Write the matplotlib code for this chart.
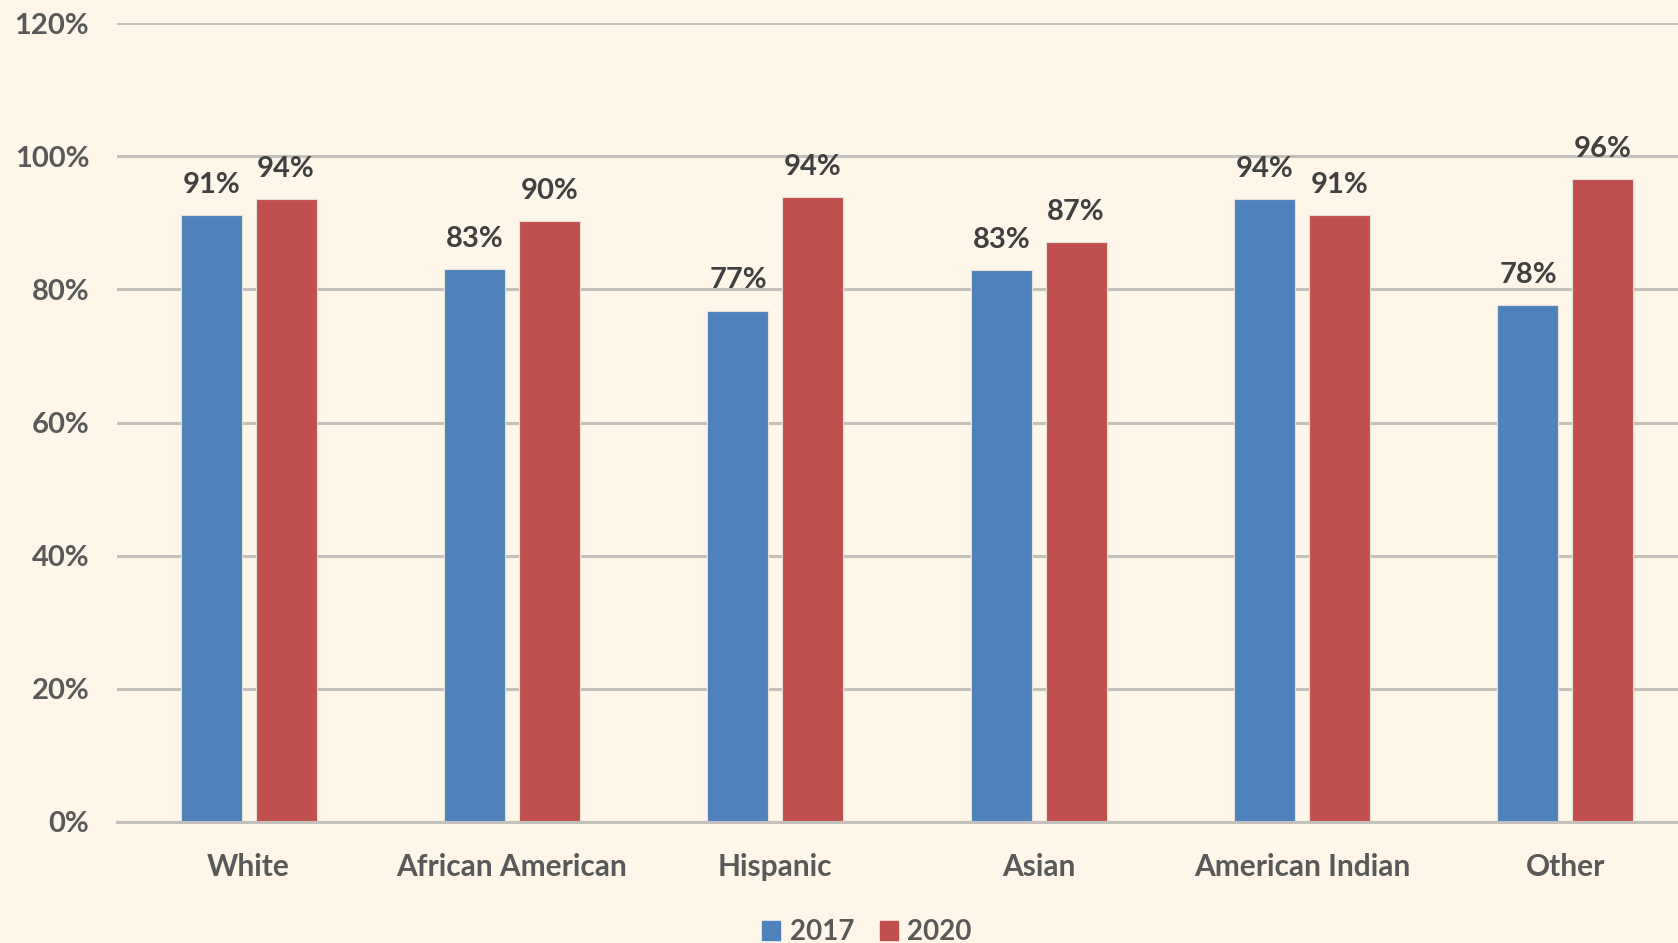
import numpy as np
import matplotlib
matplotlib.use("Agg")
import matplotlib.pyplot as plt
from matplotlib.patches import Patch

categories = ["White", "African American", "Hispanic", "Asian", "American Indian", "Other"]
vals_2017 = [0.912, 0.830, 0.768, 0.829, 0.936, 0.776]
vals_2020 = [0.935, 0.903, 0.939, 0.871, 0.911, 0.965]
labels_2017 = ["91%", "83%", "77%", "83%", "94%", "78%"]
labels_2020 = ["94%", "90%", "94%", "87%", "91%", "96%"]
series_names = ["2017", "2020"]
yticks = [0, 0.2, 0.4, 0.6, 0.8, 1.0, 1.2]

plt.rcParams['font.family'] = ['Lato', 'DejaVu Sans']

bg = '#FDF6E9'
blue = '#4F81BD'
red = '#C0504D'
grid_c = '#C4C0BA'
tick_c = '#595959'
label_c = '#404040'

W, H = 1678, 943
fig = plt.figure(figsize=(W / 100, H / 100), dpi=100, facecolor=bg)
# plot area runs a bit past the right edge, like the cropped original
ax = fig.add_axes([117 / W, 1 - 822 / H, (1697 - 117) / W, (822 - 23) / H])
ax.set_facecolor(bg)

x = np.arange(len(categories))
bw = 0.232
off = 0.142
ax.bar(x - off, vals_2017, bw, color=blue, edgecolor='#E6E0D6', linewidth=0.8, zorder=3)
ax.bar(x + off, vals_2020, bw, color=red, edgecolor='#E6E0D6', linewidth=0.8, zorder=3)

for xi, v, t in zip(x, vals_2017, labels_2017):
    ax.annotate(t, (xi - off, v), xytext=(0, 16), textcoords='offset points',
                ha='center', va='baseline', fontsize=21, fontweight='bold', color=label_c)
for xi, v, t in zip(x, vals_2020, labels_2020):
    ax.annotate(t, (xi + off, v), xytext=(0, 16), textcoords='offset points',
                ha='center', va='baseline', fontsize=21, fontweight='bold', color=label_c)

ax.set_xlim(-0.5, 5.5)
ax.set_ylim(0, 1.2)
ax.set_yticks(yticks)
ax.set_yticklabels([f"{int(round(t * 100))}%" for t in yticks])
ax.set_xticks(x)
ax.set_xticklabels(categories)
ax.tick_params(axis='y', length=0, pad=20, labelsize=21, labelcolor=tick_c)
ax.tick_params(axis='x', length=0, pad=22, labelsize=21.5, labelcolor=tick_c)
for lab in ax.get_xticklabels() + ax.get_yticklabels():
    lab.set_fontweight('bold')

ax.grid(axis='y', color=grid_c, linewidth=2.2, zorder=0)
ax.set_axisbelow(True)
for s in ['left', 'right', 'top']:
    ax.spines[s].set_visible(False)
ax.spines['bottom'].set_color(grid_c)
ax.spines['bottom'].set_linewidth(2.2)
ax.spines['bottom'].set_zorder(4)

handles = [Patch(color=blue), Patch(color=red)]
leg = fig.legend(handles, series_names, loc='center', bbox_to_anchor=(867 / W, 1 - 932 / H),
                 ncol=2, frameon=False, fontsize=20, handlelength=0.65, handleheight=0.65,
                 handletextpad=0.35, columnspacing=0.9, borderpad=0)
for t in leg.get_texts():
    t.set_color(tick_c)
    t.set_fontweight('bold')

fig.savefig("out.png", dpi=100, facecolor=bg)
